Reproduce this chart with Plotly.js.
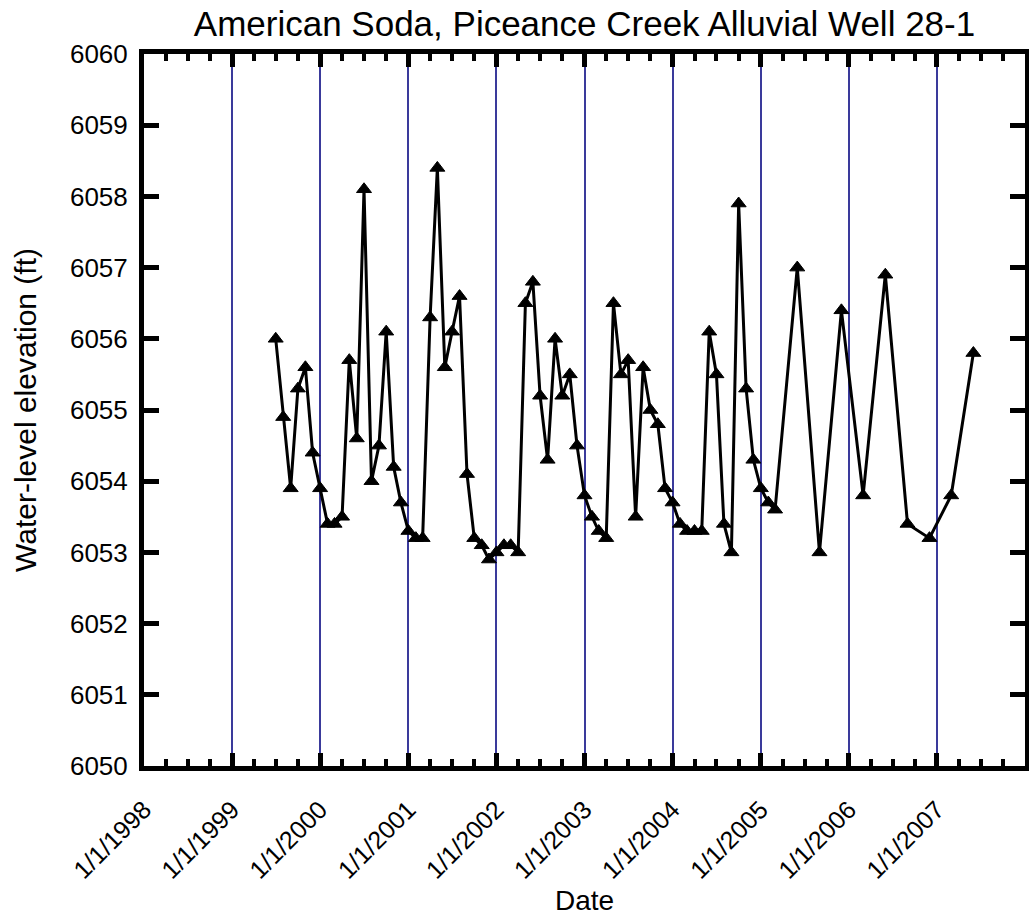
<!DOCTYPE html>
<html>
<head>
<meta charset="utf-8">
<script src="https://cdn.plot.ly/plotly-3.0.1.min.js"></script>
<style>html,body{margin:0;padding:0;background:#fff;}#chart{width:1029px;height:916px;}</style>
</head>
<body>
<div id="chart"></div>
<script>
const dates = [
  "1999-07-01","1999-08-01","1999-09-01","1999-10-01","1999-11-01","1999-12-01",
  "2000-01-01","2000-02-01","2000-03-01","2000-04-01","2000-05-01","2000-06-01",
  "2000-07-01","2000-08-01","2000-09-01","2000-10-01","2000-11-01","2000-12-01",
  "2001-01-01","2001-02-01","2001-03-01","2001-04-01","2001-05-01","2001-06-01",
  "2001-07-01","2001-08-01","2001-09-01","2001-10-01","2001-11-01","2001-12-01",
  "2002-01-01","2002-02-01","2002-03-01","2002-04-01","2002-05-01","2002-06-01",
  "2002-07-01","2002-08-01","2002-09-01","2002-10-01","2002-11-01","2002-12-01",
  "2003-01-01","2003-02-01","2003-03-01","2003-04-01","2003-05-01","2003-06-01",
  "2003-07-01","2003-08-01","2003-09-01","2003-10-01","2003-11-01","2003-12-01",
  "2004-01-01","2004-02-01","2004-03-01","2004-04-01","2004-05-01","2004-06-01",
  "2004-07-01","2004-08-01","2004-09-01","2004-10-01","2004-11-01","2004-12-01",
  "2005-01-01","2005-02-01","2005-03-01","2005-06-01","2005-09-01","2005-12-01",
  "2006-03-01","2006-06-01","2006-09-01","2006-12-01","2007-03-01","2007-06-01"
];
const elevation = [
  6056.0, 6054.9, 6053.9, 6055.3, 6055.6, 6054.4,
  6053.9, 6053.4, 6053.4, 6053.5, 6055.7, 6054.6,
  6058.1, 6054.0, 6054.5, 6056.1, 6054.2, 6053.7,
  6053.3, 6053.2, 6053.2, 6056.3, 6058.4, 6055.6,
  6056.1, 6056.6, 6054.1, 6053.2, 6053.1, 6052.9,
  6053.0, 6053.1, 6053.1, 6053.0, 6056.5, 6056.8,
  6055.2, 6054.3, 6056.0, 6055.2, 6055.5, 6054.5,
  6053.8, 6053.5, 6053.3, 6053.2, 6056.5, 6055.5,
  6055.7, 6053.5, 6055.6, 6055.0, 6054.8, 6053.9,
  6053.7, 6053.4, 6053.3, 6053.3, 6053.3, 6056.1,
  6055.5, 6053.4, 6053.0, 6057.9, 6055.3, 6054.3,
  6053.9, 6053.7, 6053.6, 6057.0, 6053.0, 6056.4,
  6053.8, 6056.9, 6053.4, 6053.2, 6053.8, 6055.8
];
const xRange = ["1998-01-01", "2008-01-01"];
const yRange = [6050, 6060];
const chartTitle = "American Soda, Piceance Creek Alluvial Well 28-1";
const xTitle = "Date";
const yTitle = "Water-level elevation (ft)";

const FONT = "Liberation Sans, Arial, Helvetica, sans-serif";

const trace = {
  x: dates,
  y: elevation,
  type: "scatter",
  mode: "lines+markers",
  line: {color: "#000", width: 3},
  marker: {symbol: "triangle-up", size: 13, color: "#000", line: {color: "#000", width: 1}},
  hoverinfo: "x+y"
};

const layout = {
  width: 1029,
  height: 916,
  margin: {l: 144, r: 4, t: 54, b: 150},
  paper_bgcolor: "#fff",
  plot_bgcolor: "#fff",
  showlegend: false,
  font: {family: FONT, color: "#000"},
  title: {
    text: chartTitle,
    font: {family: FONT, size: 35, color: "#000"},
    x: 0.5, xref: "paper", xanchor: "center",
    y: 1 - 24 / 916, yref: "container", yanchor: "middle"
  },
  xaxis: {
    type: "date",
    range: xRange,
    tick0: "1998-01-01",
    dtick: "M12",
    tickformat: "%-m/%-d/%Y",
    tickangle: -45,
    tickfont: {family: FONT, size: 25, color: "#000"},
    ticklabelstandoff: 14,
    ticks: "inside",
    ticklen: 13,
    tickwidth: 5,
    tickcolor: "#000",
    showline: true,
    linecolor: "#000",
    linewidth: 5,
    mirror: "allticks",
    showgrid: true,
    gridcolor: "rgb(58,58,155)",
    gridwidth: 2,
    zeroline: false,
    minor: {dtick: "M3", ticks: "inside", ticklen: 7, tickwidth: 4, tickcolor: "#000", showgrid: false},
    title: {text: xTitle, font: {family: FONT, size: 28, color: "#000"}, standoff: 16}
  },
  yaxis: {
    range: yRange,
    dtick: 1,
    tick0: 6050,
    tickfont: {family: FONT, size: 26, color: "#000"},
    ticklabelstandoff: 6,
    ticks: "inside",
    ticklen: 15,
    tickwidth: 5,
    tickcolor: "#000",
    showline: true,
    linecolor: "#000",
    linewidth: 5,
    mirror: "allticks",
    showgrid: false,
    zeroline: false,
    title: {text: yTitle, font: {family: FONT, size: 30, color: "#000"}, standoff: 26}
  }
};

Plotly.newPlot("chart", [trace], layout, {displayModeBar: false});
</script>
</body>
</html>
